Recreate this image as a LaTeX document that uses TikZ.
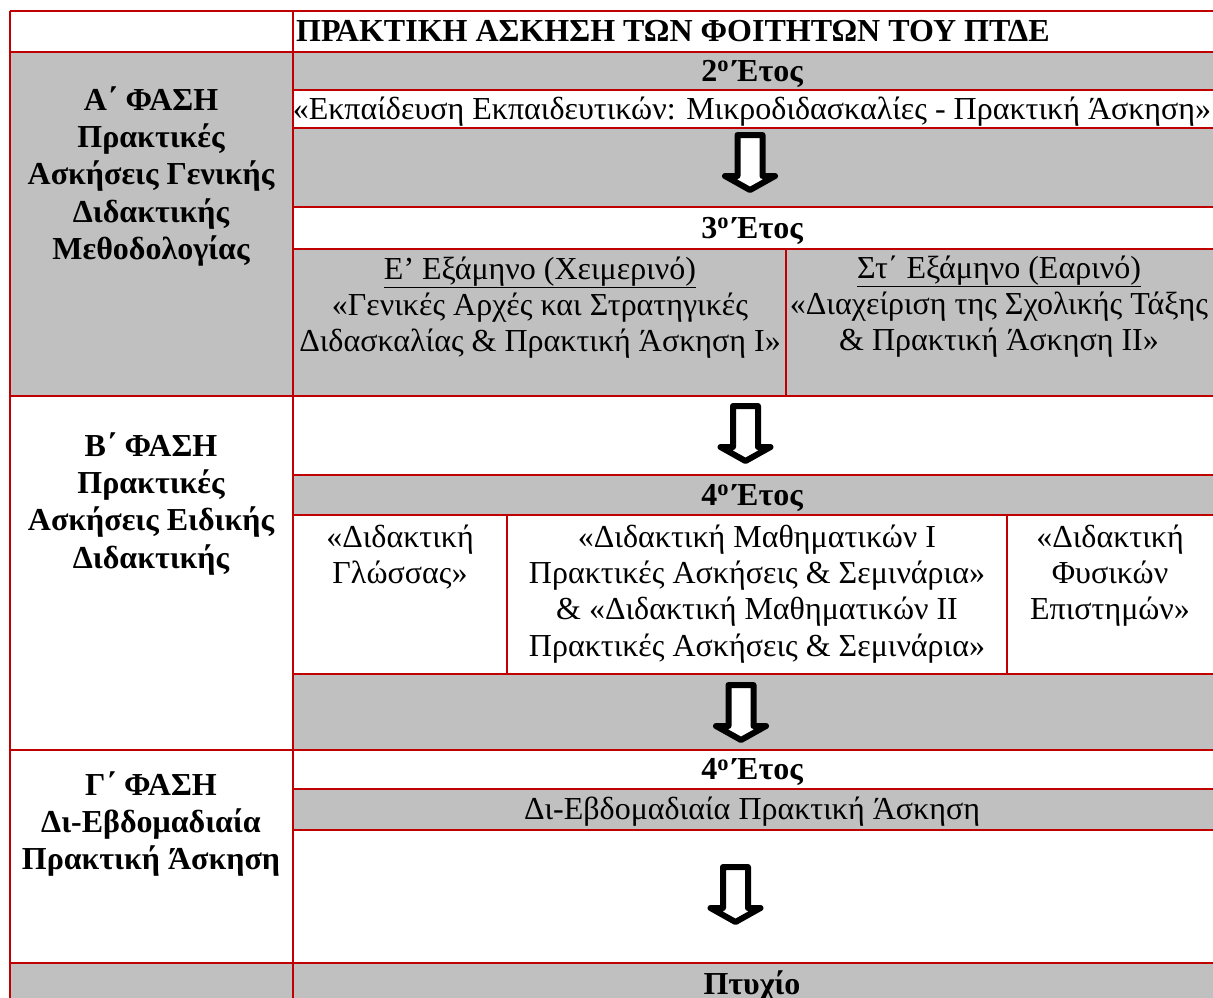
\documentclass[tikz,border=0pt]{standalone}
\usepackage{fontspec}
\setmainfont{Liberation Serif}
\definecolor{tred}{HTML}{C00000}
\definecolor{tgray}{HTML}{C0C0C0}
\newcommand{\dnarrow}[2]{%
  \draw[bigarrow] ({#1-12.5},{#2}) -- ({#1+12.5},{#2}) -- ({#1+12.5},{#2+41}) -- ({#1+25},{#2+41}) -- ({#1},{#2+55}) -- ({#1-25},{#2+41}) -- ({#1-12.5},{#2+41}) -- cycle;}
\newcommand{\yr}[1]{#1\textsuperscript{ο}\hspace{4pt}Έτος}
\begin{document}
\begin{tikzpicture}[x=1pt,y=-1pt,
  grid/.style={draw=tred, line width=1.8pt},
  cellg/.style={fill=tgray},
  lbl/.style={inner sep=0pt, anchor=base, font=\fontsize{32}{37}\selectfont},
  blbl/.style={inner sep=0pt, anchor=base, font=\fontsize{32}{37}\selectfont\bfseries},
  mlbl/.style={inner sep=0pt, anchor=north, align=center, font=\fontsize{32}{36.3}\selectfont},
  bmlbl/.style={inner sep=0pt, anchor=north, align=center, font=\fontsize{32}{37.3}\selectfont\bfseries},
  bigarrow/.style={draw=black, fill=white, line width=6pt, line join=round},
]
\useasboundingbox (0,0) rectangle (1213,997);
% gray fills
\fill[cellg] (10,52) rectangle (293,396);
\fill[cellg] (10,963) rectangle (1215,1000);
\fill[cellg] (293,52) rectangle (1215,90);
\fill[cellg] (293,128) rectangle (1215,207);
\fill[cellg] (293,249) rectangle (1215,396);
\fill[cellg] (293,475) rectangle (1215,515);
\fill[cellg] (293,674) rectangle (1215,750);
\fill[cellg] (293,789) rectangle (1215,830);
% grid lines
\draw[grid] (10,11) -- (10,1000);
\draw[grid] (293,11) -- (293,1000);
\draw[grid] (786,249) -- (786,396);
\draw[grid] (507,515) -- (507,674);
\draw[grid] (1007,515) -- (1007,674);
\foreach \yy in {11,52,396,750,963} \draw[grid] (10,\yy) -- (1215,\yy);
\foreach \yy in {90,128,207,249,475,515,674,789,830} \draw[grid] (293,\yy) -- (1215,\yy);
% title
\node[blbl, anchor=base west] (title) at (296,41.5) {ΠΡΑΚΤΙΚΗ ΑΣΚΗΣΗ ΤΩΝ ΦΟΙΤΗΤΩΝ ΤΟΥ ΠΤΔΕ};
% left column
\node[bmlbl] (phA) at (151,{110-26.1}) {\strut Α΄ ΦΑΣΗ\\ Πρακτικές\\ Ασκήσεις Γενικής\\ Διδακτικής\\ Μεθοδολογίας};
\node[bmlbl] (phB) at (151,{456-26.1}) {\strut Β΄ ΦΑΣΗ\\ Πρακτικές\\ Ασκήσεις Ειδικής\\ Διδακτικής};
\node[bmlbl] (phC) at (151,{795-26.1}) {\strut Γ΄ ΦΑΣΗ\\ Δι-Εβδομαδιαία\\ Πρακτική Άσκηση};
% right column
\node[blbl] (y2) at (752,81) {\yr{2}};
\node[lbl] (c2) at (752,119) {«Εκπαίδευση Εκπαιδευτικών: Μικροδιδασκαλίες - Πρακτική Άσκηση»};
\node[blbl] (y3) at (752,238) {\yr{3}};
\node[mlbl] (s5) at (540,{279-25.4}) {\strut\underline{Ε’ Εξάμηνο (Χειμερινό)}\\ «Γενικές Αρχές και Στρατηγικές\\ Διδασκαλίας \& Πρακτική Άσκηση Ι»};
\node[mlbl] (s6) at (999,{278-25.4}) {\strut\underline{Στ΄ Εξάμηνο (Εαρινό)}\\ «Διαχείριση της Σχολικής Τάξης\\ \& Πρακτική Άσκηση ΙΙ»};
\node[blbl] (y4) at (752,505) {\yr{4}};
\node[mlbl] (d1) at (400,{547-25.4}) {\strut«Διδακτική\\ Γλώσσας»};
\node[mlbl] (d2) at (757,{547-25.4}) {\strut«Διδακτική Μαθηματικών Ι\\ Πρακτικές Ασκήσεις \& Σεμινάρια»\\ \& «Διδακτική Μαθηματικών ΙΙ\\ Πρακτικές Ασκήσεις \& Σεμινάρια»};
\node[mlbl] (d3) at (1110,{547-25.4}) {\strut«Διδακτική\\ Φυσικών\\ Επιστημών»};
\node[blbl] (y4b) at (752,779.5) {\yr{4}};
\node[lbl] (bw) at (752,819.5) {Δι-Εβδομαδιαία Πρακτική Άσκηση};
\node[blbl] (deg) at (752,994) {Πτυχίο};
% arrows
\dnarrow{750}{135}
\dnarrow{745.5}{406}
\dnarrow{741}{685}
\dnarrow{735.5}{867}
\end{tikzpicture}
\end{document}
